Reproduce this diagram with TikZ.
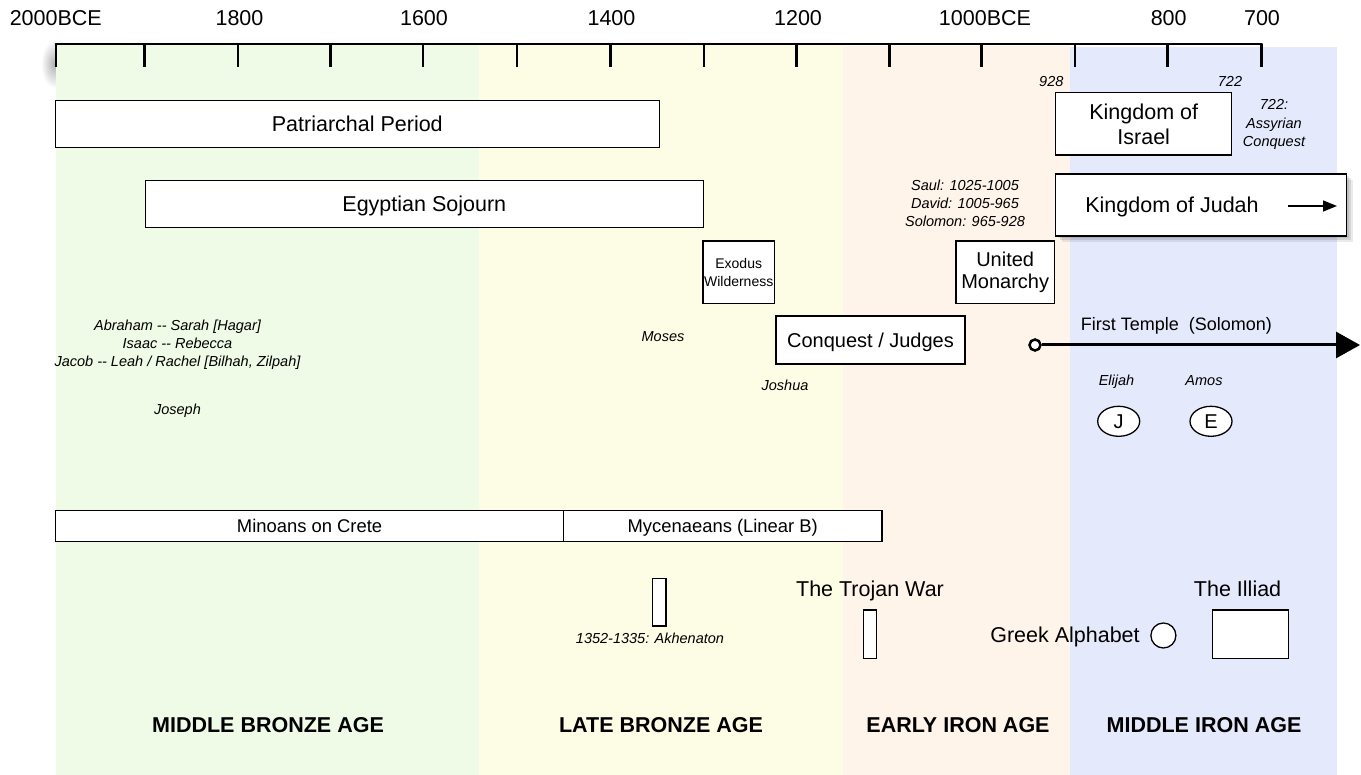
\documentclass[tikz,border=0pt]{standalone}
\usepackage{fontspec}
\setmainfont{Liberation Sans}
\usetikzlibrary{arrows.meta,shadows,shapes.geometric}
\definecolor{bgreen}{RGB}{239,251,230}
\definecolor{byellow}{RGB}{253,252,228}
\definecolor{bpeach}{RGB}{254,244,233}
\definecolor{bblue}{RGB}{229,233,252}
\newcommand{\dhyph}{\mbox{-}\mbox{-}}
\begin{document}
\begin{tikzpicture}[x=1pt,y=-1pt,
  box/.style={draw=black, fill=white, line width=1.3pt, inner sep=0pt, align=center},
  tbig/.style={font=\fontsize{21.5}{25}\selectfont, text height=15.4pt, text depth=0pt},
  mbig/.style={font=\fontsize{21.5}{25}\selectfont, align=center},
  tmid/.style={font=\fontsize{20}{23}\selectfont, text height=14.3pt, text depth=0pt},
  mmid/.style={font=\fontsize{20}{22}\selectfont, align=center},
  tsm/.style={font=\fontsize{18.4}{22}\selectfont, text height=13.2pt, text depth=0pt},
  lbl/.style={inner sep=0pt},
  tit/.style={lbl, font=\fontsize{14.5}{18.3}\selectfont\itshape, text height=10.4pt, text depth=0pt},
  mit/.style={lbl, font=\fontsize{14.5}{18.2}\selectfont\itshape, align=center},
  agelbl/.style={lbl, font=\fontsize{21.5}{25}\selectfont\bfseries, text height=15.4pt, text depth=0pt},
  axlbl/.style={lbl, font=\fontsize{21.5}{25}\selectfont, text height=15.4pt, text depth=0pt},
  tickline/.style={line width=2.5pt},
  axisline/.style={line width=2.5pt, line cap=round},
  oval/.style={ellipse, draw=black, fill=white, line width=1.3pt, inner sep=0pt},
  softshadow/.style={drop shadow={shadow xshift=2pt, shadow yshift=-2pt, opacity=0.10, fill=black},
                     drop shadow={shadow xshift=4pt, shadow yshift=-4pt, opacity=0.10, fill=black},
                     drop shadow={shadow xshift=6pt, shadow yshift=-6pt, opacity=0.08, fill=black}},
]
\useasboundingbox (0,0) rectangle (1361,775);

% soft shadow at the axis start
\shade[inner color=black!30, outer color=white] (54,64) ellipse [x radius=13pt, y radius=24pt];

% age bands
\fill[bgreen]  (55.5,44) rectangle (479,775);
\fill[byellow] (479,44) rectangle (843,775);
\fill[bpeach]  (843,46) rectangle (1070,775);
\fill[bblue]   (1070,47) rectangle (1337,775);

% axis
\foreach \i/\x in {0/55.8,1/144.5,2/238,3/330.4,4/423.2,5/517,6/610.3,7/703.9,8/796.4,9/889.3,10/981.7,11/1075,12/1167.7,13/1261.7}{
  \coordinate (t\i) at (\x,44);
  \coordinate (b\i) at (\x,67);
}
\draw[axisline] (t0) -- (t13);
\foreach \i in {0,...,13}{ \draw[tickline] (t\i) -- (b\i); }

\node[axlbl] (y2000) at (55.8,18.3) {2000BCE};
\node[axlbl] (y1800) at (239.5,18.3) {1800};
\node[axlbl] (y1600) at (424,18.3) {1600};
\node[axlbl] (y1400) at (611.5,18.3) {1400};
\node[axlbl] (y1200) at (798,18.3) {1200};
\node[axlbl] (y1000) at (985,18.3) {1000BCE};
\node[axlbl] (y800) at (1168.7,18.3) {800};
\node[axlbl] (y700) at (1262,18.3) {700};

% periods
\node[box, tbig, minimum width=604pt, minimum height=46.6pt] (patr) at (357.3,124) {Patriarchal Period};
\node[box, tbig, minimum width=558pt, minimum height=47pt] (egypt) at (424.3,204.2) {Egyptian Sojourn};
\node[box, font=\fontsize{14}{18.4}\selectfont, minimum width=71.3pt, minimum height=62.3pt] (exodus) at (738.7,272.2) {Exodus\\Wilderness};
\node[box, tmid, minimum width=189pt, minimum height=48pt] (conq) at (870.5,340) {Conquest / Judges};
\node[box, mmid, minimum width=98.3pt, minimum height=62.3pt] (united) at (1005.2,272.2) {United\\Monarchy};
\node[box, mbig, minimum width=176pt, minimum height=62.3pt] (israel) at (1143.7,123.9) {Kingdom of\\Israel};
\node[box, minimum width=291pt, minimum height=62pt, softshadow] (judah) at (1201.3,205) {};
\node[lbl, tbig] (judaht) at (1172,205) {Kingdom of Judah};
\coordinate (ja) at (1288,206);
\coordinate (jb) at (1337,206);
\draw[line width=1.5pt, -{Triangle[length=14pt,width=11pt]}] (ja) -- (jb);

% small italic labels
\node[tit] (d928) at (1051.3,81.7) {928};
\node[tit] (d722) at (1230,81.7) {722};
\node[mit] (assyr) at (1274,124.5) {722:\\Assyrian\\Conquest};
\node[mit] (kings) at (965,203.5) {Saul: 1025-1005\\David: 1005-965\\Solomon: 965-928};
\node[mit] (patri) at (177.5,344.8) {Abraham \dhyph{} Sarah [Hagar]\\Isaac \dhyph{} Rebecca\\Jacob \dhyph{} Leah / Rachel [Bilhah, Zilpah]};
\node[tit] (joseph) at (177.5,409.3) {Joseph};
\node[tit] (moses) at (663,336.7) {Moses};
\node[tit] (joshua) at (785,385.7) {Joshua};

% first temple
\node[lbl, font=\fontsize{18}{22}\selectfont, text height=12.9pt, text depth=0pt] (temple) at (1176.4,324) {First Temple\ \ (Solomon)};
\node[circle, draw=black, fill=white, line width=2.5pt, minimum size=11pt, inner sep=0pt] (tstart) at (1035,345) {};
\coordinate (tend) at (1360,345);
\draw[line width=3pt, -{Triangle[length=24pt,width=26pt]}] (tstart) -- (tend);

\node[tit] (elijah) at (1116.5,380) {Elijah};
\node[tit] (amos) at (1204,380) {Amos};
\node[oval, tmid, minimum width=42pt, minimum height=30pt] (docJ) at (1118.7,421.3) {J};
\node[oval, tmid, minimum width=42pt, minimum height=30pt] (docE) at (1211,421.3) {E};

% Aegean
\node[box, tsm, minimum width=507.6pt, minimum height=31pt] (minoan) at (309.6,526.2) {Minoans on Crete};
\node[box, tsm, minimum width=318.7pt, minimum height=31pt] (myc) at (722.75,526.2) {Mycenaeans (Linear B)};

\node[box, minimum width=13.3pt, minimum height=47.7pt] (akh) at (659.4,602.2) {};
\node[tit] (akht) at (650,638) {1352-1335: Akhenaton};

\node[lbl, tbig] (trojt) at (870,588.3) {The Trojan War};
\node[box, minimum width=12.6pt, minimum height=48.3pt] (troj) at (869.9,634.2) {};

\node[lbl, tbig] (greekt) at (1065,634.3) {Greek Alphabet};
\node[oval, minimum width=25pt, minimum height=25pt] (greek) at (1163.4,635.5) {};

\node[lbl, tbig] (iliadt) at (1237.6,588.3) {The Illiad};
\node[box, minimum width=75.9pt, minimum height=48.3pt] (iliad) at (1250.2,634.2) {};

% ages
\node[agelbl] (mba) at (268,725) {MIDDLE BRONZE AGE};
\node[agelbl] (lba) at (661,725) {LATE BRONZE AGE};
\node[agelbl] (eia) at (958,725) {EARLY IRON AGE};
\node[agelbl] (mia) at (1204,725) {MIDDLE IRON AGE};
\end{tikzpicture}
\end{document}
